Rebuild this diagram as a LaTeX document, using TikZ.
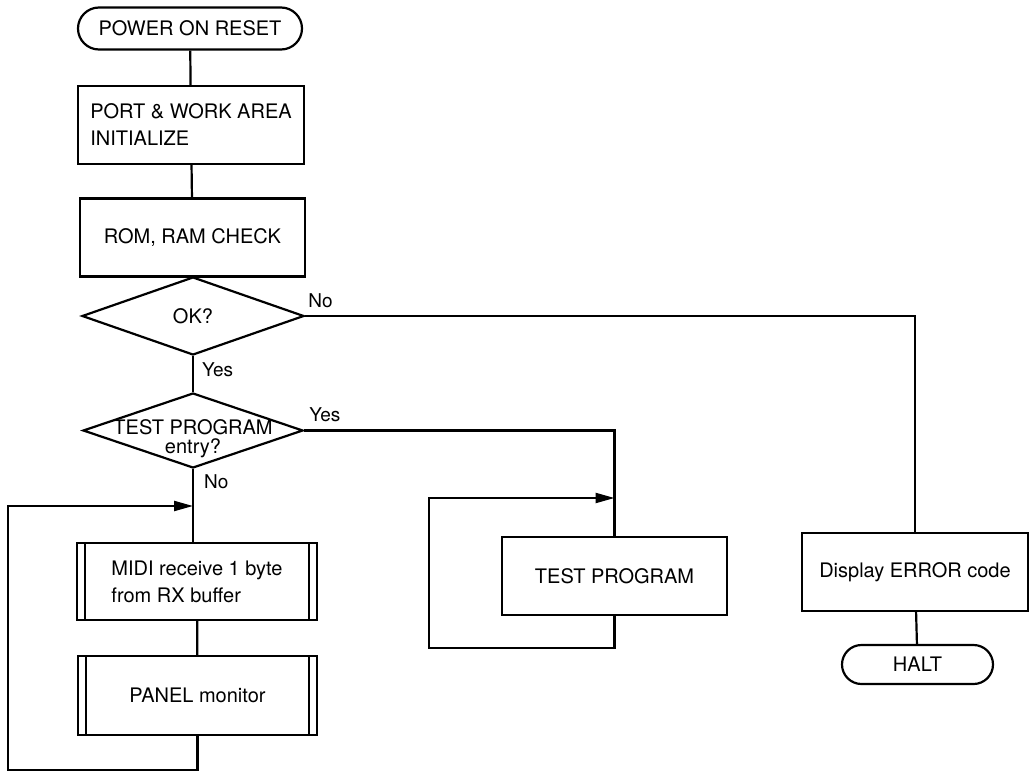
\documentclass[tikz,border=0pt]{standalone}
\usepackage{fontspec}
\setmainfont{TeX Gyre Heros}
\usetikzlibrary{calc,shapes.geometric,shapes.misc,arrows.meta}

\tikzset{
  flowline/.style={line width=2.2pt},
  flowarrow/.style={flowline, -{Triangle[length=19pt,width=10pt]}},
  terminal/.style={draw, flowline, rounded rectangle, minimum height=42pt, inner sep=0pt,
    font=\fontsize{20}{24}\selectfont},
  procbox/.style={draw, flowline, rectangle, minimum height=78pt, inner sep=0pt, align=left,
    font=\fontsize{20}{27}\selectfont},
  subbox/.style={procbox,
    path picture={
      \draw[flowline] ([xshift=8pt]path picture bounding box.north west) -- ([xshift=8pt]path picture bounding box.south west);
      \draw[flowline] ([xshift=-8pt]path picture bounding box.north east) -- ([xshift=-8pt]path picture bounding box.south east);
    }},
  decision/.style={draw, flowline, diamond, inner sep=0pt, font=\fontsize{20}{24}\selectfont},
  answer/.style={inner sep=0pt, font=\fontsize{19}{22}\selectfont}
}

\begin{document}
\begin{tikzpicture}[x=1pt,y=-1pt]
			%%%%% START %%%%%
			\useasboundingbox (0,0) rectangle (1029,774);
			
			% main column
			\node[terminal, minimum width=224pt] (poweron) at (190,28.5) {POWER ON RESET};
			\node[procbox, minimum width=226pt] (init) at (191,125) {PORT \& WORK AREA\\INITIALIZE};
			\node[procbox, minimum width=225pt] (romram) at (192.5,237.5) {ROM, RAM CHECK};
			\node[decision, minimum width=222pt, minimum height=78pt] (okq) at (193,316) {OK?};
			\node[decision, minimum width=220pt, minimum height=75pt,
			      label={[inner sep=0pt, yshift=-8pt, align=center, font=\fontsize{20}{19.5}\selectfont]center:{TEST PROGRAM\\entry?}}]
			      (testq) at (193,430.5) {};
			\node[subbox, minimum width=240pt, minimum height=77pt] (midi) at (197,581.5) {MIDI receive 1 byte\\from RX buffer};
			\node[subbox, minimum width=239pt, minimum height=79pt] (panel) at (197.5,695.5) {PANEL monitor};
			
			% right side
			\node[procbox, minimum width=225pt] (testprog) at (614.5,576) {TEST PROGRAM};
			\node[procbox, minimum width=226pt] (errdisp) at (915,572) {Display ERROR code};
			\node[terminal, minimum width=151pt, minimum height=39pt] (halt) at (917.5,664.5) {HALT};
			
			% branch labels
			\node[answer, anchor=base west] (oknolbl) at ($(okq.east)+(3,-9)$) {No};
			\node[answer, anchor=base west] (okyeslbl) at ($(okq.south)+(9,20)$) {Yes};
			\node[answer, anchor=base west] (testyeslbl) at ($(testq.east)+(5,-9)$) {Yes};
			\node[answer, anchor=base west] (testnolbl) at ($(testq.south)+(11,19)$) {No};
			
			\coordinate (mainjoin) at (testq.south |- 0,506);
			\coordinate (tpjoin) at (testprog.north |- 0,498);
			
			\draw[flowline] (poweron) -- (init);
			\draw[flowline] (init) -- (romram);
			\draw[flowline] (romram) -- (okq);
			\draw[flowline] (okq.south) -- (testq.north);
			\draw[flowline] (testq.south) -- (testq.south |- midi.north);
			\draw[flowline] (midi) -- (panel);
			\draw[flowline] (okq.east) -| (errdisp.north);
			\draw[flowline] (testq.east) -| (testprog.north);
			\draw[flowline] (errdisp) -- (halt);
			
			% loops
			\draw[flowarrow] (panel.south) |- (8,770) |- (mainjoin);
			\draw[flowarrow] (testprog.south) |- (429,648) |- (tpjoin);
			
			%%%%% END %%%%%
\end{tikzpicture}
\end{document}
